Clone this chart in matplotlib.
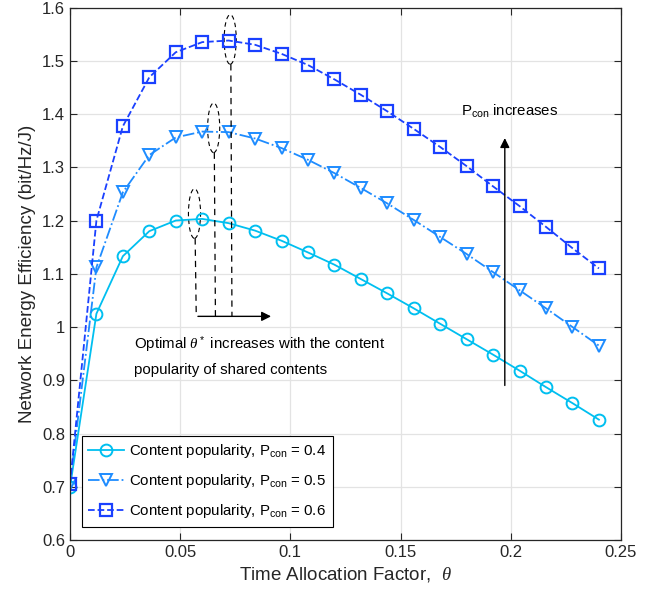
import numpy as np
import matplotlib
matplotlib.use("Agg")
import matplotlib.pyplot as plt
from matplotlib.patches import Ellipse

plt.rcParams['font.family'] = ['Liberation Sans', 'DejaVu Sans']
plt.rcParams['mathtext.fontset'] = 'custom'
plt.rcParams['mathtext.rm'] = 'Liberation Sans'
plt.rcParams['mathtext.it'] = 'Liberation Serif:italic'

# time allocation factor
theta = [0, 0.012, 0.024, 0.036, 0.048, 0.06, 0.072, 0.084, 0.096, 0.108, 0.12,
         0.132, 0.144, 0.156, 0.168, 0.18, 0.192, 0.204, 0.216, 0.228, 0.24]

# network energy efficiency per content popularity
ee_04 = [0.699, 1.025, 1.133, 1.180, 1.200, 1.203, 1.195, 1.181, 1.162, 1.140, 1.117,
         1.090, 1.063, 1.035, 1.006, 0.977, 0.948, 0.918, 0.887, 0.857, 0.826]
ee_05 = [0.705, 1.112, 1.253, 1.323, 1.356, 1.367, 1.366, 1.354, 1.336, 1.314, 1.289,
         1.261, 1.232, 1.201, 1.169, 1.137, 1.103, 1.069, 1.035, 1.000, 0.965]
ee_06 = [0.705, 1.200, 1.377, 1.469, 1.516, 1.535, 1.538, 1.530, 1.513, 1.492, 1.465,
         1.436, 1.405, 1.372, 1.338, 1.302, 1.264, 1.227, 1.188, 1.148, 1.110]

labels = [r'Content popularity, P$_{\rm con}$ = 0.4',
          r'Content popularity, P$_{\rm con}$ = 0.5',
          r'Content popularity, P$_{\rm con}$ = 0.6']

fig = plt.figure(figsize=(6.62, 6.01), dpi=100)
ax = fig.add_axes([0.1057, 0.1015, 0.8323, 0.886])

ax.plot(theta, ee_04, '-', color='#00BFF0', marker='o', ms=8.5, mfc='none', mew=1.4, lw=1.3, label=labels[0])
ax.plot(theta, ee_05, '-.', color='#1E8CFF', marker='v', ms=8.5, mfc='none', mew=1.4, lw=1.3, label=labels[1])
ax.plot(theta, ee_06, '--', color='#1A40FF', marker='s', ms=8, mfc='none', mew=1.6, lw=1.3, label=labels[2])

# ellipses around the maxima and the dashed guides
ell = [(0.0565, 1.213), (0.0652, 1.374), (0.0727, 1.540)]
for cx, cy in ell:
    ax.add_patch(Ellipse((cx, cy), 0.0055, 0.093, fill=False, ec='k', ls=(0, (4, 3)), lw=0.8))
    ax.plot([cx + 0.0003, cx + 0.0008], [cy - 0.0465, 1.02], color='k', ls=(0, (5, 4)), lw=0.9)
ax.annotate('', xy=(0.0925, 1.02), xytext=(0.0568, 1.02),
            arrowprops=dict(arrowstyle='-|>', color='k', lw=1.0, mutation_scale=14))
ax.text(0.0292, 0.947, 'Optimal $\\theta^*$ increases with the content\npopularity of shared contents',
        fontsize=10.8, linespacing=1.7, va='center', ha='left')

ax.annotate('', xy=(0.1973, 1.36), xytext=(0.1973, 0.885),
            arrowprops=dict(arrowstyle='-|>', color='k', lw=1.0, mutation_scale=14))
ax.text(0.1997, 1.405, r'P$_{\rm con}$ increases', fontsize=10.8, ha='center', va='center')

ax.set_xlim(0, 0.25)
ax.set_ylim(0.6, 1.6)
ax.set_xticks([0, 0.05, 0.1, 0.15, 0.2, 0.25])
ax.set_xticklabels(['0', '0.05', '0.1', '0.15', '0.2', '0.25'])
ax.set_yticks(np.arange(0.6, 1.61, 0.1))
ax.set_yticklabels(['0.6', '0.7', '0.8', '0.9', '1', '1.1', '1.2', '1.3', '1.4', '1.5', '1.6'])
ax.tick_params(direction='in', top=True, right=True, labelsize=12, length=5, colors='#262626')
ax.grid(True, color='#E3E3E3', lw=0.9)
ax.set_axisbelow(True)
for s in ax.spines.values():
    s.set_color('#262626')
    s.set_linewidth(0.9)

ax.set_xlabel(r'Time Allocation Factor,  $\theta$', fontsize=13.5, color='#262626')
ax.set_ylabel('Network Energy Efficiency (bit/Hz/J)', fontsize=13.5, color='#262626', labelpad=4)

leg = ax.legend(loc='lower left', bbox_to_anchor=(0.021, 0.024), borderaxespad=0, fontsize=10.8,
                handlelength=2.4, fancybox=False, edgecolor='k', framealpha=1, labelspacing=0.8,
                handletextpad=0.3, borderpad=0.45)
leg.get_frame().set_linewidth(0.8)

plt.savefig('out.png', dpi=100)
